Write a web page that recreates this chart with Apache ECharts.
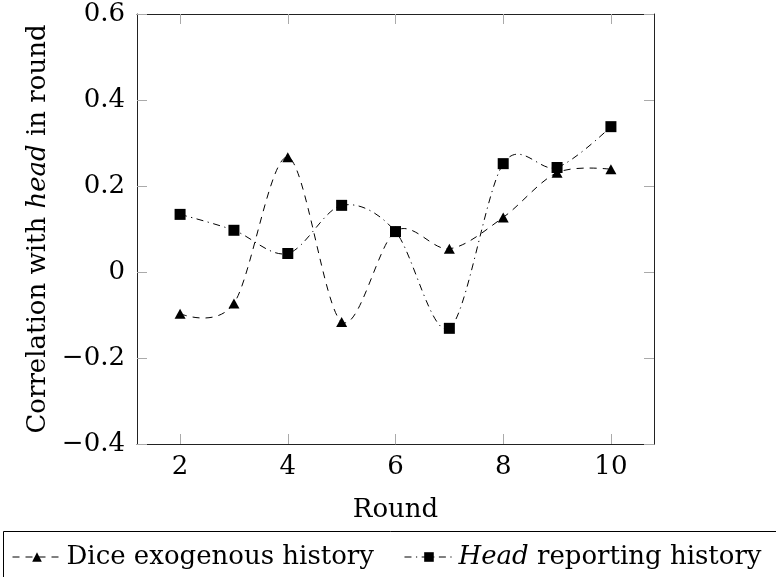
<!DOCTYPE html>
<html>
<head>
<meta charset="utf-8">
<script src="https://cdn.jsdelivr.net/npm/echarts@6/dist/echarts.min.js"></script>
<style>html,body{margin:0;padding:0;background:#fff}#c{width:776px;height:577px}</style>
</head>
<body>
<div id="c"></div>
<script>
const rounds = [2, 3, 4, 5, 6, 7, 8, 9, 10];
const diceExogenous = [-0.097, -0.073, 0.267, -0.116, 0.095, 0.054, 0.127, 0.231, 0.239];
const headReporting = [0.134, 0.097, 0.043, 0.155, 0.094, -0.131, 0.252, 0.243, 0.338];
const xTicks = [2, 4, 6, 8, 10];
const yTicks = [-0.4, -0.2, 0, 0.2, 0.4, 0.6];

const FONT = 'DejaVu Serif';
const FS = 26;
const DICE_DASH = [7, 6];
const HEAD_DASH = [7, 4.5, 1.2, 4.5];
const TENSION = 0.16;

const chart = echarts.init(document.getElementById('c'), null, {renderer: 'canvas'});
const pairs = (ys) => rounds.map((r, i) => [r, ys[i]]);
const fmtY = (v) => {
  const r = Math.round(v * 10) / 10;
  if (r === 0) return '0';
  return (r < 0 ? '\u2212' : '') + Math.abs(r).toFixed(1);
};

// TikZ-like "smooth" curve through the points, positioned by the chart's own scales (api.coord)
function smoothRenderer(ys, dash) {
  return function (params, api) {
    if (params.dataIndex !== 0) return null;
    const p = rounds.map((r, i) => api.coord([r, ys[i]]));
    const n = p.length;
    let d = 'M' + p[0][0] + ' ' + p[0][1];
    for (let i = 0; i < n - 1; i++) {
      const a = p[i], b = p[i + 1];
      let c1 = a, c2 = b;
      if (i > 0) {
        const pr = p[i - 1];
        c1 = [a[0] + TENSION * (b[0] - pr[0]), a[1] + TENSION * (b[1] - pr[1])];
      }
      if (i + 2 < n) {
        const nx = p[i + 2];
        c2 = [b[0] - TENSION * (nx[0] - a[0]), b[1] - TENSION * (nx[1] - a[1])];
      }
      d += ' C' + c1[0] + ' ' + c1[1] + ' ' + c2[0] + ' ' + c2[1] + ' ' + b[0] + ' ' + b[1];
    }
    return {
      type: 'path',
      shape: {pathData: d},
      style: {stroke: '#000', fill: null, lineWidth: 1, lineDash: dash}
    };
  };
}

const axisLine = {show: true, onZero: false, lineStyle: {color: '#222', width: 1}};
const tick = {show: true, inside: true, length: 10, lineStyle: {color: '#aaa', width: 1}};

chart.setOption({
  animation: false,
  backgroundColor: '#fff',
  textStyle: {fontFamily: FONT},
  grid: {left: 137, right: 122, top: 14, bottom: 133},
  graphic: [{
    type: 'rect', silent: true, z: 0,
    shape: {x: 3.5, y: 531.5, width: 900, height: 120},
    style: {fill: null, stroke: '#000', lineWidth: 1}
  }],
  xAxis: [{
    type: 'value', min: 1.2, max: 10.8, position: 'bottom',
    name: 'Round', nameLocation: 'middle', nameGap: 53,
    nameTextStyle: {fontFamily: FONT, fontSize: FS, color: '#000'},
    axisLine: axisLine,
    axisTick: Object.assign({customValues: xTicks}, tick),
    axisLabel: {customValues: xTicks, fontFamily: FONT, fontSize: FS, color: '#000', margin: 10},
    splitLine: {show: false}
  }, {
    type: 'value', min: 1.2, max: 10.8, position: 'top',
    axisLine: axisLine,
    axisTick: Object.assign({customValues: xTicks}, tick),
    axisLabel: {show: false},
    splitLine: {show: false}
  }],
  yAxis: [{
    type: 'value', min: -0.4, max: 0.6, interval: 0.2, position: 'left',
    name: '{a|Correlation with }{i|head}{a| in round}',
    nameLocation: 'middle', nameGap: 86, nameRotate: 90,
    nameTextStyle: {rich: {
      a: {fontFamily: FONT, fontSize: FS, color: '#000'},
      i: {fontFamily: FONT, fontSize: FS, color: '#000', fontStyle: 'italic'}
    }},
    axisLine: axisLine,
    axisTick: tick,
    axisLabel: {formatter: fmtY, fontFamily: FONT, fontSize: FS, color: '#000', margin: 12},
    splitLine: {show: false}
  }, {
    type: 'value', min: -0.4, max: 0.6, interval: 0.2, position: 'right',
    axisLine: axisLine,
    axisTick: tick,
    axisLabel: {show: false},
    splitLine: {show: false}
  }],
  legend: {
    left: 3, top: 531, width: 1400,
    orient: 'horizontal',
    itemWidth: 49, itemHeight: 12, itemGap: 30,
    padding: [13, 0, 0, 9],
    formatter: (name) => name === 'Head reporting history' ? '{i|Head} reporting history' : name,
    textStyle: {
      fontFamily: FONT, fontSize: FS, color: '#000',
      rich: {i: {fontFamily: FONT, fontSize: FS, color: '#000', fontStyle: 'italic'}}
    },
    data: [
      {name: 'Dice exogenous history', lineStyle: {opacity: 1, color: '#000', width: 1, type: DICE_DASH}},
      {name: 'Head reporting history', lineStyle: {opacity: 1, color: '#000', width: 1, type: HEAD_DASH}}
    ]
  },
  series: [{
    name: 'dice-curve', type: 'custom', xAxisIndex: 0, yAxisIndex: 0, z: 1,
    data: pairs(diceExogenous),
    renderItem: smoothRenderer(diceExogenous, DICE_DASH),
    silent: true
  }, {
    name: 'head-curve', type: 'custom', xAxisIndex: 0, yAxisIndex: 0, z: 1,
    data: pairs(headReporting),
    renderItem: smoothRenderer(headReporting, HEAD_DASH),
    silent: true
  }, {
    name: 'Dice exogenous history',
    type: 'line', xAxisIndex: 0, yAxisIndex: 0, z: 3,
    data: pairs(diceExogenous),
    symbol: 'triangle', symbolSize: [11, 10],
    itemStyle: {color: '#000'},
    lineStyle: {color: '#000', width: 1, type: DICE_DASH, opacity: 0}
  }, {
    name: 'Head reporting history',
    type: 'line', xAxisIndex: 0, yAxisIndex: 0, z: 3,
    data: pairs(headReporting),
    symbol: 'rect', symbolSize: 11,
    itemStyle: {color: '#000'},
    lineStyle: {color: '#000', width: 1, type: HEAD_DASH, opacity: 0}
  }]
});
</script>
</body>
</html>
